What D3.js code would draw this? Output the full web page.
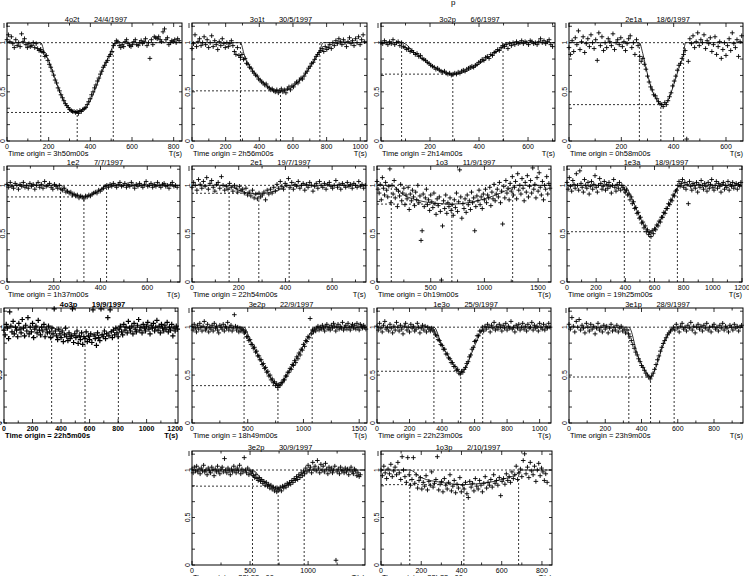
<!DOCTYPE html>
<html>
<head>
<meta charset="utf-8">
<script src="https://cdnjs.cloudflare.com/ajax/libs/d3/7.8.5/d3.min.js"></script>
<style>
  body { margin: 0; background: #fff; }
  svg { display: block; }
  text { font-family: "Liberation Sans", Arial, sans-serif; font-size: 7.5px; fill: #000; }
</style>
</head>
<body>
<svg id="chart" width="749" height="576"></svg>
<script>

// ---- panel labels ----
const names   = ['4o2t','3o1t','3o2p','2e1a','1e2','2e1','1o3','1e3a','4o3p','3e2p','1e3o','3e1p','3e2p','1o3p'];
const dates   = ['24/4/1997','30/5/1997','6/6/1997','18/6/1997','7/7/1997','19/7/1997','11/9/1997','18/9/1997',
                 '19/9/1997','22/9/1997','25/9/1997','28/9/1997','30/9/1997','2/10/1997'];
const origins = ['3h50m00s','2h56m00s','2h14m00s','0h58m00s','1h37m00s','22h54m00s','0h19m00s','19h25m00s',
                 '22h5m00s','18h49m00s','22h23m00s','23h9m00s','23h53m00s','23h23m00s'];

// time axis end (s), tick spacing, sampling step of the points
const tMax      = [840,1040,710,665,740,745,1620,1200,1220,1570,1070,960,1490,850];
const xTickStep = [200,200,200,200,200,200,500,200,200,500,200,200,500,200];
const tStep     = [7,9,7,6,7,7,10,8,8,10,8,8,10,7];

// contact times [start, minimum, end] and flux level at minimum
const contacts = [[162,337,510],[288,526,760],[84,293,498],[269,351,438],[229,329,426],[159,286,416],
                  [133,697,1263],[393,568,757],[334,568,802],[467,771,1078],[350,515,650],[330,450,580],
                  [521,742,966],[143,412,684]];
const minLevel = [0.29,0.51,0.68,0.37,0.88,0.918,0.806,0.52,0.9,0.39,0.54,0.48,0.83,0.846];

// normalised flux, in percent, one value per sample
const flux_4o2t = [103,108,101,106,99,95,103,97,100,96,109,101,104,98,95,99,96,97,100,95,99,94,92,93,91,90,86,87,82,78,75,71,67,62,59,54,51,47,44,41,38,36,34,32,31,30,30,29,30,28,31,30,32,33,34,37,40,43,47,50,54,57,61,64,68,71,75,77,80,82,86,88,91,97,99,102,101,97,95,98,96,101,103,99,97,96,98,101,103,98,97,100,102,99,101,104,97,100,84,103,98,106,105,104,106,103,101,111,114,103,105,98,100,102,101,103,100,104,102];
const flux_3o1t = [94,99,108,96,101,104,97,100,106,98,103,95,100,107,96,102,98,93,101,97,104,99,95,100,96,99,102,97,91,88,95,87,85,88,83,84,79,78,75,74,71,69,67,66,63,62,60,59,57,58,55,54,52,53,51,50,52,49,51,53,50,52,49,53,55,52,56,55,58,60,59,62,64,63,66,69,71,74,76,79,80,83,86,88,90,92,94,91,96,93,95,98,94,100,97,102,99,104,101,98,103,100,96,101,105,99,102,97,104,100,106,98,103,108,101];
const flux_3o2p = [100,99,102,100,98,101,99,103,98,100,101,97,100,96,95,93,94,91,92,90,88,89,86,87,84,83,82,80,79,77,76,75,73,74,72,71,70,71,69,68,69,67,68,69,68,70,69,71,72,71,73,74,75,76,75,77,78,80,81,83,82,85,86,84,88,87,90,91,93,92,95,97,96,98,94,99,97,100,98,101,99,100,102,99,101,100,98,102,101,99,100,98,101,104,100,102,99,101,103,98,96];
const flux_2e1a = [95,88,102,91,105,98,112,93,101,106,90,99,104,96,108,100,94,103,82,110,97,106,92,100,95,104,101,97,109,93,100,103,98,105,96,101,92,99,104,107,95,100,88,103,97,86,81,84,78,73,66,60,55,52,47,46,43,40,38,37,35,39,37,41,45,49,56,61,66,72,77,79,84,88,92,2,81,104,99,107,95,101,110,97,103,100,108,94,102,99,105,91,98,106,88,96,101,84,93,100,87,97,104,92,110,99,95,103,86,101,107];
const flux_1e2  = [101,98,103,99,97,102,100,96,101,99,103,98,100,97,102,99,101,96,100,103,98,101,97,104,99,100,102,98,96,101,99,97,100,96,95,97,93,94,92,93,90,91,89,90,87,89,88,86,89,88,90,89,91,92,93,92,95,94,96,97,99,100,98,101,99,102,100,98,101,103,99,100,102,98,101,99,103,100,97,101,99,102,100,98,101,104,99,100,102,98,101,99,103,100,98,101,102,99,100,97,101,103,99,100,98];
const flux_2e1  = [98,103,100,95,106,101,97,104,99,108,96,102,105,98,94,101,103,97,109,100,95,99,96,102,98,94,100,97,93,99,95,96,92,97,90,93,89,95,87,91,86,92,88,90,93,85,95,91,96,92,98,94,101,97,104,99,96,102,100,107,98,103,96,101,99,104,97,100,102,95,101,98,103,100,94,99,102,97,104,100,98,102,96,101,103,99,97,100,105,98,101,96,102,100,98,103,99,101,97,102,100,98,104,99,101,97,100];
const flux_1o3  = [104,96,92,101,85,108,97,90,103,95,88,99,117,82,100,91,105,87,96,78,94,89,101,84,92,97,80,90,86,98,75,91,84,95,88,79,93,85,100,82,89,43,53,91,78,87,96,80,85,74,90,83,77,92,81,70,86,79,88,73,2,58,84,76,90,71,82,78,87,74,80,69,85,77,92,73,83,116,88,66,81,76,86,72,90,80,84,75,93,82,87,53,78,89,84,95,80,88,76,91,85,96,82,90,87,98,79,93,86,101,84,91,96,88,103,82,94,60,99,87,105,92,97,85,102,94,109,90,98,104,86,112,95,100,91,107,97,84,103,93,110,88,99,105,92,118,96,101,87,108,94,113,98,90,104,85,100,96,109,91,102,97];
const flux_1e3a = [103,96,108,99,94,105,101,97,112,100,95,115,102,98,93,106,100,97,103,91,99,104,96,101,110,98,93,100,107,102,96,99,104,95,101,97,103,99,92,100,106,98,94,101,97,103,95,100,98,
                   96,93,95,90,91,85,88,81,83,76,77,71,72,66,67,61,62,56,58,52,54,49,51,47,53,50,55,54,59,58,63,62,67,67,72,71,76,76,81,80,85,84,90,89,94,95,100,
                   104,99,102,106,98,103,96,101,81,104,99,95,102,100,97,103,93,101,98,105,100,96,102,99,94,103,97,101,106,98,95,100,104,97,102,99,93,101,103,96,100,98,104,95,101,99,103,97,100,102,96,101,99,103];
const flux_4o3p = [97,92,103,99,88,116,101,95,106,93,100,97,90,104,98,94,108,99,91,102,96,110,93,100,95,104,89,98,101,94,107,97,92,100,96,103,90,98,94,101,95,89,99,93,119,96,91,87,98,93,89,96,85,92,99,90,86,94,88,91,119,84,93,89,96,83,91,87,94,82,90,88,95,85,91,87,93,84,118,92,88,81,94,89,86,119,92,90,96,88,93,110,91,118,95,89,97,92,99,94,90,98,101,95,92,103,97,100,94,106,99,96,101,93,104,98,95,102,108,97,100,94,103,99,96,101,105,98,93,102,99,104,96,100,107,97,101,94,103,99,96,102,98,105,95,100,97,103,91,99,96,101,98];
const flux_3e2p22 = [101,97,103,99,95,102,98,104,100,96,101,106,97,99,103,95,100,98,102,96,104,99,101,97,94,102,100,98,103,96,101,99,105,97,100,102,96,99,113,101,97,100,95,99,96,98,97,
                     94,95,90,90,86,87,82,82,78,79,74,75,70,70,66,66,61,62,57,58,53,54,49,50,45,46,42,43,39,41,37,40,39,42,42,45,45,49,49,53,53,57,56,61,60,65,63,69,67,73,71,77,76,82,80,86,85,90,89,109,93,97,
                     95,98,96,99,101,97,100,98,102,99,96,101,103,98,100,97,102,99,104,101,96,100,103,98,101,99,105,97,100,102,98,104,100,97,101,103,99,102,98,104,100,97,103,101,99,102,100,98];
const flux_1e3o = [101,97,104,99,95,102,106,98,100,96,103,99,94,101,97,105,100,96,102,98,93,101,104,97,100,95,103,99,101,96,98,104,100,94,99,102,97,101,95,100,98,96,99,97,
                   95,92,91,87,86,82,81,77,77,72,72,68,67,63,63,59,59,55,56,52,51,54,53,56,58,62,64,69,71,77,79,85,86,91,91,96,96,100,96,
                   101,98,103,100,95,102,99,105,97,101,98,103,100,96,102,99,104,97,101,99,106,98,100,95,102,99,103,97,100,104,98,101,96,103,99,100,105,97,102,99,101,96,104,100,98,103,97,101,99,104,100];
const flux_3e1p = [103,98,110,101,95,106,100,108,97,102,99,94,104,100,96,103,98,101,93,99,104,97,100,95,102,98,101,94,99,103,96,100,97,102,95,99,101,96,98,94,97,93,90,86,82,78,74,71,67,64,60,58,55,52,50,48,46,49,52,56,61,66,70,75,79,83,86,89,92,94,96,98,100,97,103,99,95,101,104,98,100,96,102,99,105,97,101,94,100,103,98,101,96,102,99,104,97,100,95,101,103,98,100,96,102,99,104,97,101,99,95,102,100,97,103,99,101,96,100,102];
const flux_3e2p30 = [101,97,103,99,104,98,101,96,102,99,105,98,100,95,102,99,97,103,100,94,101,98,104,99,96,101,103,98,112,100,97,102,99,95,101,98,104,100,97,102,99,105,96,101,98,113,100,97,102,95,99,96,98,94,92,95,91,89,92,88,90,86,88,84,87,83,85,81,84,80,82,78,81,77,80,79,82,78,83,81,84,82,86,84,87,85,89,87,91,89,93,90,95,92,97,94,99,96,102,98,105,100,103,97,108,101,104,99,110,102,97,106,100,104,98,107,101,96,103,99,102,97,100,104,5,98,101,96,103,99,100,97,102,98,101,95,100,103,98,96,101,99,94,97,93,95];
const flux_1o3p = [100,94,104,97,91,101,96,106,93,99,103,95,108,97,90,114,100,93,87,113,95,84,90,113,86,95,81,89,92,80,87,83,94,79,88,84,98,82,86,90,114,79,85,88,77,91,84,80,87,95,78,83,89,76,85,81,92,77,84,80,87,75,71,88,82,86,78,91,83,80,89,84,77,86,93,81,87,84,90,82,95,86,89,84,92,73,88,91,85,96,89,93,87,98,91,95,104,90,97,101,93,110,117,96,103,92,108,99,95,104,88,100,107,94,102,98,89,96,87];

// fitted light curve, key points [t, flux]
const fit_4o2t = [[0,1],[162,1],[180,0.9],[200,0.82],[225,0.67],[250,0.52],[275,0.40],[300,0.33],[337,0.29],[370,0.32],[400,0.41],[430,0.56],[460,0.73],[490,0.87],[510,0.97],[520,1],[840,1]];
const fit_3o1t = [[0,1],[288,1],[310,0.88],[360,0.72],[420,0.6],[470,0.53],[526,0.51],[580,0.53],[630,0.6],[690,0.72],[740,0.86],[760,0.93],[780,1],[1040,1]];
const fit_3o2p = [[0,1],[84,1],[150,0.87],[200,0.78],[250,0.71],[293,0.68],[340,0.7],[400,0.78],[450,0.87],[498,0.96],[510,1],[710,1]];
const fit_2e1a = [[0,1],[269,1],[282,0.89],[300,0.68],[320,0.5],[340,0.4],[351,0.37],[365,0.37],[380,0.42],[400,0.57],[420,0.74],[438,0.89],[445,1],[665,1]];
const fit_1e2  = [[0,1],[229,1],[260,0.94],[300,0.895],[329,0.88],[360,0.9],[400,0.955],[426,1],[740,1]];
const fit_2e1  = [[0,1],[159,1],[200,0.95],[250,0.915],[286,0.91],[330,0.925],[380,0.96],[416,1],[745,1]];
const fit_1o3  = [[0,1],[133,1],[250,0.9],[400,0.84],[550,0.815],[697,0.806],[850,0.82],[1000,0.86],[1150,0.92],[1263,0.98],[1300,1],[1620,1]];
const fit_1e3a = [[0,1],[393,1],[440,0.88],[500,0.67],[540,0.56],[568,0.52],[600,0.55],[650,0.67],[700,0.8],[740,0.92],[757,0.97],[770,1],[1200,1]];
const fit_4o3p = [[0,1],[334,1],[400,0.95],[500,0.91],[568,0.9],[650,0.91],[740,0.95],[802,1],[1220,1]];
const fit_3e2p22 = [[0,1],[467,1],[520,0.87],[600,0.69],[680,0.52],[740,0.42],[771,0.39],[800,0.41],[860,0.52],[940,0.68],[1020,0.85],[1078,0.97],[1100,1],[1570,1]];
const fit_1e3o = [[0,1],[350,1],[400,0.81],[450,0.67],[490,0.57],[515,0.53],[545,0.57],[580,0.72],[620,0.88],[650,0.98],[665,1],[1070,1]];
const fit_3e1p = [[0,1],[330,1],[380,0.7],[420,0.55],[450,0.48],[480,0.58],[520,0.82],[560,0.96],[580,1],[960,1]];
const fit_3e2p30 = [[0,1],[521,1],[600,0.9],[680,0.83],[742,0.81],[800,0.83],[880,0.9],[966,0.98],[990,1],[1490,1]];
const fit_1o3p = [[0,1],[143,1],[200,0.92],[300,0.87],[412,0.846],[500,0.86],[600,0.9],[684,0.97],[700,1],[850,1]];

const fluxes = [flux_4o2t,flux_3o1t,flux_3o2p,flux_2e1a,flux_1e2,flux_2e1,flux_1o3,flux_1e3a,
                flux_4o3p,flux_3e2p22,flux_1e3o,flux_3e1p,flux_3e2p30,flux_1o3p];
const fits   = [fit_4o2t,fit_3o1t,fit_3o2p,fit_2e1a,fit_1e2,fit_2e1,fit_1o3,fit_1e3a,
                fit_4o3p,fit_3e2p22,fit_1e3o,fit_3e1p,fit_3e2p30,fit_1o3p];

// ---- layout: frame [left, right, top, bottom] of every panel ----
const frames = [
  [7,182,23,141],[192,367,23,141],[381,555,23,141],[569,743,23,141],
  [7,180,166,282],[192,366,166,282],[377,551,166,282],[567,742,166,282],
  [4,178,308,423],[192,367,308,423],[377,551,308,423],[569,743,308,423],
  [192,365,451,565],[381,552,451,565]
];

const svg = d3.select('#chart');

// stray glyph from the page heading above the figure
svg.append('text').attr('x', 451).attr('y', 5).style('font-size', '8px').text('p');

function drawPanel(i){
  const [x0, x1, y0, y1] = frames[i];
  const bold = names[i] === '4o3p';
  const x = d3.scaleLinear().domain([0, tMax[i]]).range([x0, x1]);
  const y = d3.scaleLinear().domain([0, 1.2]).range([y1, y0]);
  const g = svg.append('g').style('font-weight', bold ? 'bold' : 'normal');

  // frame
  g.append('rect')
    .attr('x', x0).attr('y', y0)
    .attr('width', x1 - x0).attr('height', y1 - y0)
    .attr('fill', 'none').attr('stroke', '#000').attr('stroke-width', 1);

  // inward ticks, x on top and bottom
  const step = xTickStep[i];
  d3.range(0, tMax[i] + 1, step / 2).forEach(v => {
    const len = (v % step === 0) ? 4 : 2.5;
    g.append('line').attr('x1', x(v)).attr('x2', x(v)).attr('y1', y1).attr('y2', y1 - len).attr('stroke', '#000').attr('stroke-width', 0.8);
    g.append('line').attr('x1', x(v)).attr('x2', x(v)).attr('y1', y0).attr('y2', y0 + len).attr('stroke', '#000').attr('stroke-width', 0.8);
  });
  // y ticks on left and right
  d3.range(0, 1.2, 1/6).forEach(v => {
    g.append('line').attr('x1', x0).attr('x2', x0 + 3).attr('y1', y(v)).attr('y2', y(v)).attr('stroke', '#000').attr('stroke-width', 0.8);
    g.append('line').attr('x1', x1).attr('x2', x1 - 3).attr('y1', y(v)).attr('y2', y(v)).attr('stroke', '#000').attr('stroke-width', 0.8);
  });

  // x tick labels
  d3.range(0, tMax[i] + 1, step).forEach(v => {
    g.append('text').attr('x', x(v)).attr('y', y1 + 7.5)
      .attr('text-anchor', 'middle').style('font-size', '7px').text(v);
  });
  // y tick labels, rotated
  [[0,'0'],[0.5,'0.5'],[1,'1']].forEach(([v, s]) => {
    g.append('text')
      .attr('transform', `translate(${x0 - 2},${y(v)}) rotate(-90)`)
      .attr('text-anchor', 'middle').style('font-size', '7px').text(s);
  });
  g.append('line').attr('x1', x0 - 3).attr('x2', x0 - 3).attr('y1', y0).attr('y2', y0 + 5).attr('stroke', '#000').attr('stroke-width', 0.8);

  // title and footer
  g.append('text').attr('x', (x0 + x1) / 2 + 1.5).attr('y', y0 - 1.5)
    .attr('text-anchor', 'middle').style('white-space', 'pre')
    .text(names[i] + '       ' + dates[i]);
  g.append('text').attr('x', x0 + 1).attr('y', y1 + 15).text('Time origin = ' + origins[i]);
  g.append('text').attr('x', x1).attr('y', y1 + 15).attr('text-anchor', 'end').text('T(s)');

  // dashed guides: unit level, minimum level, contact times
  const [tA, tM, tB] = contacts[i];
  const dash = (xa, ya, xb, yb) => g.append('line')
      .attr('x1', xa).attr('y1', ya).attr('x2', xb).attr('y2', yb)
      .attr('stroke', '#000').attr('stroke-width', 0.8).attr('stroke-dasharray', '2,2');
  dash(x0, y(1), x1, y(1));
  dash(x0, y(minLevel[i]), x(tM), y(minLevel[i]));
  dash(x(tA), y1, x(tA), y(1));
  dash(x(tM), y1, x(tM), y(minLevel[i]));
  dash(x(tB), y1, x(tB), y(1));

  // fitted curve
  const line = d3.line().x(d => x(d[0])).y(d => y(d[1])).curve(d3.curveMonotoneX);
  g.append('path').datum(fits[i]).attr('d', line)
    .attr('fill', 'none').attr('stroke', '#000').attr('stroke-width', 0.8);

  // observed points as '+'
  const r = bold ? 2.6 : 2.3;
  g.append('g').selectAll('path')
    .data(fluxes[i])
    .join('path')
      .attr('transform', (d, k) => `translate(${x(k * tStep[i])},${y(d / 100)})`)
      .attr('d', `M${-r},0H${r}M0,${-r}V${r}`)
      .attr('stroke', '#000')
      .attr('stroke-width', bold ? 1.2 : 0.9)
      .attr('fill', 'none');
}

names.forEach((n, i) => drawPanel(i));

</script>
</body>
</html>
